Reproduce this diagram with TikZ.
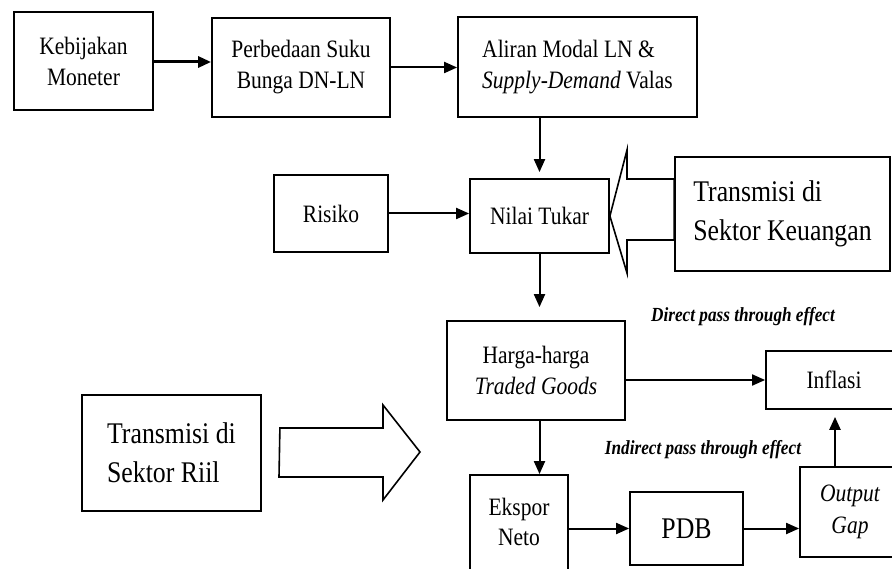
\documentclass[tikz,border=0pt]{standalone}
\usepackage{fontspec}
\setmainfont{Liberation Serif}[FakeStretch=0.86]
\usetikzlibrary{arrows.meta}
\begin{document}
\begin{tikzpicture}[x=1pt,y=-1pt,
  box/.style={draw,line width=1.8pt,inner sep=0pt,align=center,
    font=\fontsize{25}{31}\selectfont},
  bigbox/.style={box,font=\fontsize{30}{39}\selectfont,align=left},
  arr/.style={line width=2pt,-{Triangle[length=13pt,width=11pt]}},
  hollow/.style={draw,line width=1.6pt,line join=miter,fill=white},
  lbl/.style={font=\fontsize{20}{24}\selectfont\itshape\bfseries}]
\useasboundingbox (0,0) rectangle (892,569);
\clip (0,0) rectangle (892,569);

% boxes of the transmission chain
\node[box,minimum width=139,minimum height=98] (keb) at (83.5,61) {Kebijakan\\Moneter};
\node[box,minimum width=178,minimum height=99] (perb) at (301,67.5) {Perbedaan Suku\\Bunga DN-LN};
\node[box,minimum width=239,minimum height=100,align=left] (aliran) at (577.5,67) {Aliran Modal LN \&\\\textit{Supply-Demand} Valas};
\node[box,minimum width=114,minimum height=77] (risiko) at (331,213.5) {Risiko};
\node[box,minimum width=139,minimum height=74] (nilai) at (539.5,216) {Nilai Tukar};
\node[bigbox,minimum width=215,minimum height=114] (keu) at (782.5,214) {Transmisi di\\Sektor Keuangan};
\node[box,minimum width=178,minimum height=99] (harga) at (536,370.5) {Harga-harga\\\textit{Traded Goods}};
\node[box,minimum width=136,minimum height=58] (inflasi) at (834,380) {Inflasi};
\node[bigbox,minimum width=179,minimum height=116] (riil) at (171.5,453) {Transmisi di\\Sektor Riil};
\node[box,minimum width=98,minimum height=130] (ekspor) at (519,540) {};
\node[font=\fontsize{25}{30}\selectfont,align=center] (eksporlbl) at (519,522) {Ekspor\\Neto};
\node[box,minimum width=113,minimum height=73,font=\fontsize{30}{36}\selectfont] (pdb) at (686.5,528.5) {PDB};
\node[box,minimum width=100,minimum height=90,font=\fontsize{25}{32}\selectfont\itshape] (gap) at (850,512) {Output\\Gap};

% pass-through labels
\node[lbl] (direct) at (743,317) {Direct pass through effect};
\node[lbl] (indirect) at (703,450) {Indirect pass through effect};

% hollow block arrows
\draw[hollow] (nilai.east) -- (627,150) -- (627,179) -- (keu.west |- 0,179)
  -- (keu.west |- 0,240) -- (627,240) -- (627,273) -- cycle;
\draw[hollow] (riil.east |- 0,428) ++(18,0) -- (383,428) -- (383,405) -- (420,452)
  -- (383,500) -- (383,477) -- (279,477) -- cycle;

% connectors
\draw[arr,line width=3pt] (keb.east |- 0,62) -- (perb.west |- 0,62);
\draw[arr] (perb.east) -- (perb.east -| aliran.west);
\draw[arr,shorten >=6pt] (aliran.south -| nilai.north) -- (nilai.north);
\draw[arr] (risiko.east) -- (risiko.east -| nilai.west);
\draw[arr,shorten >=13pt] (nilai.south) -- (nilai.south |- harga.north);
\draw[arr] (harga.south -| nilai.south) -- (nilai.south |- ekspor.north);
\draw[arr] (inflasi.west -| harga.east) -- (inflasi.west);
\draw[arr] (pdb.west -| ekspor.east) -- (pdb.west);
\draw[arr] (pdb.east) -- (pdb.east -| gap.west);
\draw[arr,line width=2.4pt,shorten >=7pt] ([xshift=-15]gap.north) -- ([xshift=-15]gap.north |- inflasi.south);
\end{tikzpicture}
\end{document}
